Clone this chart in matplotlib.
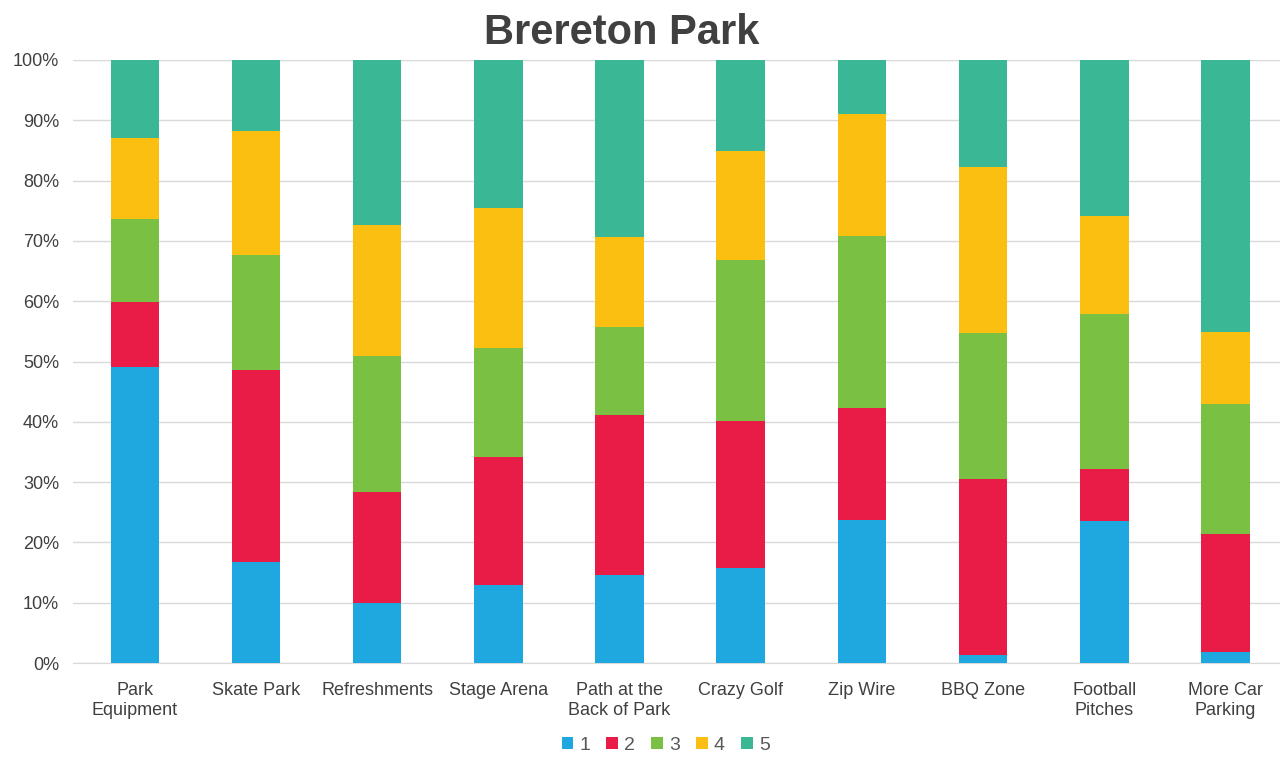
import numpy as np
import matplotlib.pyplot as plt
from matplotlib.ticker import PercentFormatter

plt.rcParams['font.family'] = ['Liberation Sans', 'DejaVu Sans']

categories = ["Park\nEquipment", "Skate Park", "Refreshments", "Stage Arena",
              "Path at the\nBack of Park", "Crazy Golf", "Zip Wire", "BBQ Zone",
              "Football\nPitches", "More Car\nParking"]
# percentage share for each rating
s1 = [49.1, 16.7, 10.0, 12.9, 14.6, 15.8, 23.7, 1.3, 23.5, 1.8]
s2 = [10.8, 31.9, 18.4, 21.3, 26.5, 24.3, 18.6, 29.2, 8.7, 19.6]
s3 = [13.7, 19.1, 22.5, 18.0, 14.6, 26.7, 28.5, 24.2, 25.7, 21.6]
s4 = [13.5, 20.5, 21.7, 23.3, 14.9, 18.1, 20.2, 27.6, 16.2, 11.9]
s5 = [12.9, 11.8, 27.4, 24.5, 29.4, 15.1, 9.0, 17.7, 25.9, 45.1]
series_names = ["1", "2", "3", "4", "5"]
colors = ["#1EA8DF", "#E91C47", "#7AC143", "#FBBF12", "#3AB795"]

fig = plt.figure(figsize=(12.8, 7.65), dpi=100)
ax = fig.add_axes([0.057, 0.1333, 0.943, 0.7883])

x = np.arange(len(categories))
bottom = np.zeros(len(categories))
for vals, name, c in zip([s1, s2, s3, s4, s5], series_names, colors):
    ax.bar(x, vals, 0.4, bottom=bottom, color=c, label=name, zorder=3)
    bottom += np.array(vals)

ax.set_ylim(0, 100)
ax.set_xlim(-0.51, 9.45)
ax.set_yticks(np.arange(0, 101, 10))
ax.yaxis.set_major_formatter(PercentFormatter(decimals=0))
ax.set_xticks(x)
ax.set_xticklabels(categories)
ax.grid(axis='y', color='#d9d9d9', linewidth=1, zorder=0)
for s in ['top', 'right', 'left']:
    ax.spines[s].set_visible(False)
ax.spines['bottom'].set_color('#d9d9d9')
ax.tick_params(axis='both', length=0, labelsize=13, colors='#404040')
ax.tick_params(axis='x', pad=14)
ax.tick_params(axis='y', pad=10)

fig.suptitle("Brereton Park", fontsize=30, fontweight='bold', color='#404040', x=0.486, y=0.983)

fig.legend(loc='lower center', bbox_to_anchor=(0.52, -0.008), ncol=5, frameon=False,
           fontsize=14, handlelength=0.6, handleheight=0.6, handletextpad=0.3,
           columnspacing=0.85, labelcolor='#595959')

fig.savefig("out.png", dpi=100)
